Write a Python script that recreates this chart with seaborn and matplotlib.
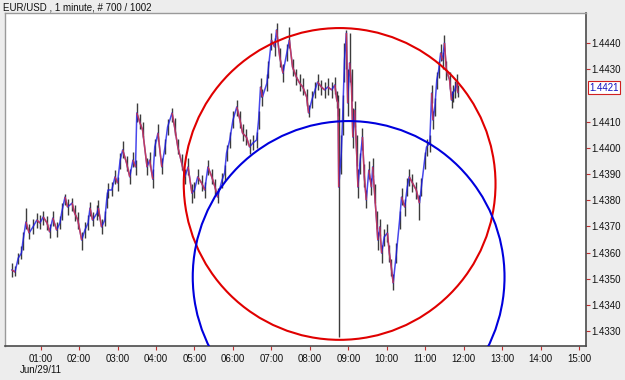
import numpy as np
import pandas as pd
import matplotlib
matplotlib.use("Agg")
import matplotlib.pyplot as plt
import matplotlib.transforms as mtransforms
from matplotlib.collections import LineCollection
from matplotlib.patches import Ellipse
import seaborn as sns

# ---------------- data ----------------
minutes = [15, 20, 25, 30, 32, 37, 42, 48, 54, 59, 64, 70, 74, 79, 85, 90, 93, 98, 102, 109,
           113, 118, 124, 129, 134, 137, 141, 148, 150, 155, 160, 163, 165, 171, 176, 180, 184, 188, 194, 199,
           204, 208, 210, 215, 219, 226, 230, 235, 238, 243, 249, 254, 258, 265, 269, 274, 280, 285, 290, 296,
           300, 305, 311, 316, 321, 327, 332, 336, 343, 347, 350, 355, 360, 366, 371, 375, 381, 386, 391, 397,
           400, 403, 406, 413, 415, 420, 425, 428, 433, 438, 444, 448, 453, 459, 464, 469, 475, 478, 483, 488,
           492, 498, 503, 508, 514, 519, 522, 524, 525, 529, 531, 534, 537, 539, 542, 545, 547, 550, 553, 555,
           558, 562, 565, 568, 572, 576, 578, 581, 584, 586, 589, 592, 596, 601, 604, 607, 610, 615, 620, 623,
           628, 632, 635, 640, 646, 651, 654, 659, 662, 667, 670, 672, 675, 678, 681, 684, 687, 690, 693, 698,
           701, 703, 706, 709, 711]

close = [1.43534, 1.43526, 1.43579, 1.43598, 1.43637, 1.43717, 1.43675, 1.43698, 1.43724, 1.43713,
         1.43736, 1.43713, 1.43679, 1.43732, 1.43686, 1.43713, 1.43755, 1.43812, 1.43774, 1.43789,
         1.43751, 1.43724, 1.43648, 1.43686, 1.43713, 1.43770, 1.43724, 1.43751, 1.43770, 1.43698,
         1.43724, 1.43801, 1.43839, 1.43839, 1.43889, 1.43866, 1.43953, 1.43992, 1.43942, 1.43889,
         1.43953, 1.43927, 1.44133, 1.44095, 1.44068, 1.43927, 1.43953, 1.43880, 1.44003, 1.44056,
         1.43927, 1.44003, 1.44079, 1.44133, 1.44079, 1.44003, 1.43942, 1.43889, 1.43927, 1.43827,
         1.43839, 1.43889, 1.43866, 1.43839, 1.43927, 1.43889, 1.43850, 1.43812, 1.43877, 1.43904,
         1.43980, 1.44030, 1.44106, 1.44156, 1.44106, 1.44056, 1.44041, 1.44003, 1.44018, 1.44030,
         1.44106, 1.44232, 1.44194, 1.44247, 1.44297, 1.44411, 1.44385, 1.44450, 1.44347, 1.44285,
         1.44362, 1.44411, 1.44308, 1.44270, 1.44247, 1.44232, 1.44194, 1.44133, 1.44182, 1.44221,
         1.44251, 1.44232, 1.44221, 1.44232, 1.44221, 1.44240, 1.44182, 1.44171, 1.43850, 1.43980,
         1.44106, 1.44335, 1.44438, 1.44171, 1.44324, 1.44232, 1.44041, 1.44144, 1.43980, 1.43850,
         1.43942, 1.44041, 1.43889, 1.43801, 1.43915, 1.43850, 1.43927, 1.43827, 1.43724, 1.43648,
         1.43698, 1.43598, 1.43660, 1.43675, 1.43598, 1.43545, 1.43484, 1.43598, 1.43724, 1.43812,
         1.43774, 1.43850, 1.43889, 1.43866, 1.43839, 1.43789, 1.43850, 1.43953, 1.44003, 1.44018,
         1.44209, 1.44106, 1.44156, 1.44259, 1.44297, 1.44362, 1.44335, 1.44400, 1.44297, 1.44259,
         1.44182, 1.44209, 1.44221, 1.44247, 1.44210]

high = [1.43560, 1.43550, 1.43600, 1.43625, 1.43680, 1.43770, 1.43710, 1.43730, 1.43750, 1.43745,
        1.43760, 1.43740, 1.43710, 1.43760, 1.43715, 1.43740, 1.43790, 1.43825, 1.43805, 1.43810,
        1.43780, 1.43755, 1.43680, 1.43715, 1.43745, 1.43795, 1.43755, 1.43780, 1.43800, 1.43730,
        1.43760, 1.43830, 1.43865, 1.43870, 1.43915, 1.43890, 1.43980, 1.44025, 1.43970, 1.43920,
        1.43985, 1.43955, 1.44171, 1.44130, 1.44100, 1.43960, 1.43985, 1.43920, 1.44035, 1.44090,
        1.43960, 1.44035, 1.44110, 1.44150, 1.44115, 1.44035, 1.43975, 1.43920, 1.43960, 1.43860,
        1.43870, 1.43920, 1.43895, 1.43870, 1.43955, 1.43920, 1.43880, 1.43845, 1.43905, 1.43935,
        1.44010, 1.44060, 1.44140, 1.44182, 1.44140, 1.44090, 1.44070, 1.44035, 1.44050, 1.44060,
        1.44140, 1.44265, 1.44225, 1.44280, 1.44330, 1.44440, 1.44420, 1.44476, 1.44380, 1.44320,
        1.44395, 1.44461, 1.44340, 1.44300, 1.44280, 1.44265, 1.44225, 1.44165, 1.44215, 1.44250,
        1.44280, 1.44260, 1.44250, 1.44265, 1.44250, 1.44270, 1.44215, 1.44200, 1.44150, 1.44050,
        1.44200, 1.44400, 1.44450, 1.44300, 1.44440, 1.44300, 1.44150, 1.44180, 1.44050, 1.43920,
        1.43980, 1.44075, 1.43940, 1.43840, 1.43950, 1.43885, 1.43960, 1.43860, 1.43760, 1.43680,
        1.43730, 1.43630, 1.43690, 1.43710, 1.43630, 1.43575, 1.43520, 1.43635, 1.43760, 1.43845,
        1.43805, 1.43885, 1.43920, 1.43900, 1.43870, 1.43820, 1.43885, 1.43985, 1.44035, 1.44050,
        1.44240, 1.44140, 1.44190, 1.44290, 1.44330, 1.44395, 1.44365, 1.44430, 1.44330, 1.44290,
        1.44215, 1.44240, 1.44255, 1.44280, 1.44240]

low = [1.43505, 1.43512, 1.43555, 1.43575, 1.43610, 1.43690, 1.43650, 1.43670, 1.43695, 1.43690,
       1.43705, 1.43685, 1.43655, 1.43700, 1.43660, 1.43690, 1.43725, 1.43780, 1.43745, 1.43760,
       1.43720, 1.43690, 1.43610, 1.43655, 1.43685, 1.43740, 1.43700, 1.43725, 1.43740, 1.43670,
       1.43700, 1.43770, 1.43810, 1.43815, 1.43860, 1.43835, 1.43920, 1.43960, 1.43910, 1.43860,
       1.43925, 1.43895, 1.44100, 1.44070, 1.44040, 1.43895, 1.43925, 1.43845, 1.43970, 1.44025,
       1.43900, 1.43975, 1.44050, 1.44100, 1.44050, 1.43975, 1.43915, 1.43860, 1.43895, 1.43789,
       1.43810, 1.43860, 1.43835, 1.43810, 1.43895, 1.43860, 1.43820, 1.43790, 1.43845, 1.43875,
       1.43950, 1.44000, 1.44075, 1.44120, 1.44075, 1.44025, 1.44010, 1.43975, 1.43990, 1.44000,
       1.44070, 1.44195, 1.44160, 1.44215, 1.44265, 1.44375, 1.44350, 1.44415, 1.44310, 1.44250,
       1.44330, 1.44380, 1.44275, 1.44240, 1.44215, 1.44200, 1.44160, 1.44118, 1.44150, 1.44190,
       1.44220, 1.44200, 1.44190, 1.44200, 1.44190, 1.44205, 1.44150, 1.44120, 1.43278, 1.43900,
       1.44050, 1.44250, 1.44300, 1.44120, 1.44250, 1.44180, 1.44000, 1.44080, 1.43930, 1.43810,
       1.43900, 1.43990, 1.43850, 1.43770, 1.43880, 1.43820, 1.43890, 1.43790, 1.43690, 1.43610,
       1.43665, 1.43560, 1.43625, 1.43640, 1.43565, 1.43510, 1.43457, 1.43560, 1.43690, 1.43780,
       1.43740, 1.43815, 1.43855, 1.43830, 1.43805, 1.43724, 1.43815, 1.43920, 1.43970, 1.43985,
       1.44170, 1.44070, 1.44120, 1.44225, 1.44265, 1.44330, 1.44300, 1.44370, 1.44260, 1.44225,
       1.44150, 1.44175, 1.44190, 1.44215, 1.44195]

hour_ticks = list(range(1, 16))
hour_labels = [f"{h:02d}:00" for h in hour_ticks]
price_ticks = [1.4330, 1.4340, 1.4350, 1.4360, 1.4370, 1.4380, 1.4390,
               1.4400, 1.4410, 1.4430, 1.4440]
last_price = 1.4421
title_text = "EUR/USD , 1 minute, # 700 / 1002"
date_text = "Jun/29/11"

# circles: centre (hour, price), radius in price units
circle_red = (8.774, 1.43862, 0.00595)
circle_blue = (9.008, 1.43507, 0.00595)

# ---------------- plot ----------------
df = pd.DataFrame({"hour": np.array(minutes) / 60.0, "close": close,
                   "high": high, "low": low})

sns.set_theme(style="white")
plt.rcParams["font.family"] = ["Liberation Sans", "DejaVu Sans"]

fig = plt.figure(figsize=(6.25, 3.8), dpi=100, facecolor="#EDEDED")
ax = fig.add_axes([5 / 625, 34 / 380, 581 / 625, 333 / 380])
ax.set_facecolor("white")

ax.set_xlim(0.073, 15.18)
ax.set_ylim(1.432435, 1.445145)

# high-low sticks
ax.vlines(df["hour"], df["low"], df["high"], color="#1a1a1a", lw=1.0, alpha=0.85, zorder=2)

# close line (blue up, red down)
sns.lineplot(data=df, x="hour", y="close", ax=ax, color="#1a1aE6", lw=1.1,
             estimator=None, sort=False, zorder=3, alpha=0.8)
pts = df[["hour", "close"]].to_numpy()
segs = [[pts[i], pts[i + 1]] for i in range(len(pts) - 1) if pts[i + 1][1] < pts[i][1]]
ax.add_collection(LineCollection(segs, colors="#E23A3A", lw=1.1, alpha=0.8, zorder=4))

# circles (round in pixel space)
fig.canvas.draw()
p0 = ax.transData.transform((0.0, 1.44))
p1 = ax.transData.transform((1.0, 1.441))
px_per_hour = p1[0] - p0[0]
px_per_price = (p1[1] - p0[1]) / 0.001
for (cx, cy, r), col in [(circle_red, "#E00000"), (circle_blue, "#0000DD")]:
    r_px = r * px_per_price
    ax.add_patch(Ellipse((cx, cy), 2 * r_px / px_per_hour, 2 * r, fill=False,
                         edgecolor=col, lw=1.5, zorder=5))

# axes styling
ax.yaxis.tick_right()
ax.set_yticks(price_ticks)
ax.set_yticklabels([f"{v:.4f}" for v in price_ticks])
ax.set_xticks(hour_ticks)
ax.set_xticklabels(hour_labels)
ax.tick_params(axis="both", which="both", length=3, width=0.8, color="#C03030",
               labelsize=7, labelcolor="#111111", pad=1.5)
ax.tick_params(axis="y", right=True, left=False, pad=1)
ax.tick_params(axis="x", bottom=True, pad=3)
ax.set_xlabel("")
ax.set_ylabel("")
for side in ["left", "top"]:
    ax.spines[side].set_color("#9A9A9A")
    ax.spines[side].set_linewidth(1.0)
for side in ["right", "bottom"]:
    ax.spines[side].set_color("#4A4A4A")
    ax.spines[side].set_linewidth(1.2)

# last price label
trans = mtransforms.blended_transform_factory(ax.transAxes, ax.transData)
ax.text(1.006, last_price, f"{last_price:.4f}", transform=trans, fontsize=7,
        color="#1010C0", va="bottom", ha="left",
        bbox=dict(boxstyle="square,pad=0.15", fc="white", ec="#D02020", lw=0.8),
        clip_on=False, zorder=10)

fig.text(3 / 625, 1 - 7 / 380, title_text, fontsize=7, color="#111111",
         ha="left", va="center")
fig.text(20 / 625, 1 - 370 / 380, date_text, fontsize=7, color="#111111",
         ha="left", va="center")

fig.savefig("out.png", dpi=100, facecolor=fig.get_facecolor())
